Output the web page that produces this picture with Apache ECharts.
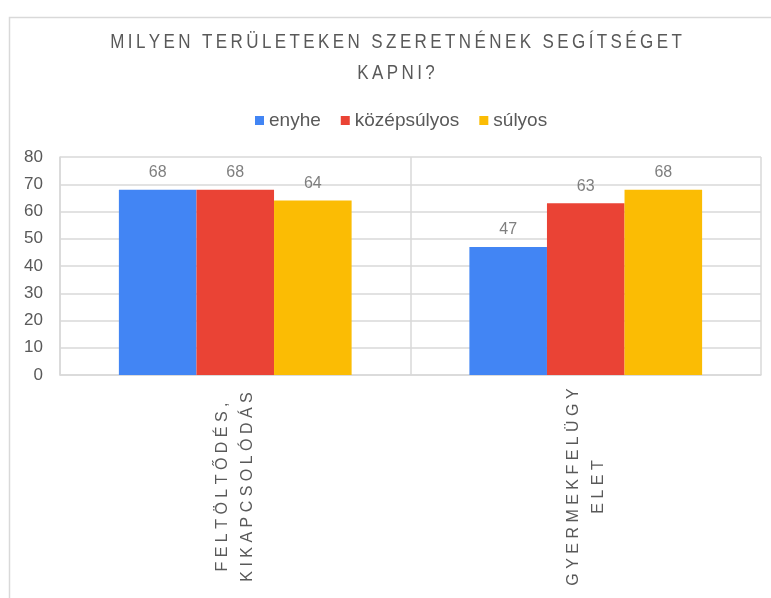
<!DOCTYPE html>
<html>
<head>
<meta charset="utf-8">
<script src="https://cdn.jsdelivr.net/npm/echarts@6/dist/echarts.min.js"></script>
<style>
  html, body { margin: 0; padding: 0; background: #fff; }
  #chart { width: 771px; height: 598px; }
</style>
</head>
<body>
<div id="chart"></div>
<script>
const titleLines = ['MILYEN TERÜLETEKEN SZERETNÉNEK SEGÍTSÉGET', 'KAPNI?']
const categories = ['FELTÖLTŐDÉS,\nKIKAPCSOLÓDÁS', 'GYERMEKFELÜGY\nELET']
const seriesNames = ['enyhe', 'középsúlyos', 'súlyos']
const enyhe = [68, 47]
const kozepsulyos = [68, 63]
const sulyos = [64, 68]
const colors = ['#4285F4', '#EA4335', '#FBBC04']

// spread letters apart, like the letter-spaced text of the original
function spaced(s, sep) {
  return s.split('\n').map(line => Array.from(line).join(sep)).join('\n')
}

const chart = echarts.init(document.getElementById('chart'))

const GRID_COLOR = '#d9d9d9'
const TEXT_COLOR = '#595959'
const FONT = 'Liberation Sans, Arial, sans-serif'

const barLabel = {
  show: true,
  position: 'top',
  distance: 9,
  color: '#7f7f7f',
  fontSize: 16,
  fontFamily: FONT,
}

// title drawn as narrow, letter-spaced text (the original uses a condensed face)
const titleGraphics = titleLines.map((line, i) => ({
  type: 'text',
  x: 396,
  y: 42 + i * 31,
  scaleX: 0.85,
  silent: true,
  style: {
    text: spaced(line, '\u2009'),
    font: '20px ' + FONT,
    fill: TEXT_COLOR,
    textAlign: 'center',
    textVerticalAlign: 'middle',
  },
}))

const option = {
  animation: false,
  color: colors,
  textStyle: { fontFamily: FONT },
  legend: {
    top: 106,
    left: 250,
    icon: 'rect',
    itemWidth: 9,
    itemHeight: 9,
    itemGap: 20,
    textStyle: { fontSize: 19, color: TEXT_COLOR },
    data: seriesNames,
  },
  graphic: [
    {
      type: 'rect',
      left: 7,
      top: 15,
      shape: { width: 790, height: 620 },
      style: { fill: 'none', stroke: GRID_COLOR, lineWidth: 1.5 },
      silent: true,
      z: -10,
    },
    ...titleGraphics,
  ],
  grid: {
    left: 60,
    right: 10,
    top: 157,
    bottom: 223,
  },
  xAxis: {
    type: 'category',
    data: categories.map(c => spaced(c, ' ')),
    axisTick: { show: false },
    axisLine: { show: true, lineStyle: { color: GRID_COLOR, width: 1.5 } },
    splitLine: { show: true, lineStyle: { color: GRID_COLOR, width: 1.5 } },
    axisLabel: {
      interval: 0,
      rotate: 90,
      align: 'center',
      verticalAlign: 'middle',
      margin: 112,
      fontSize: 16,
      lineHeight: 25,
      color: TEXT_COLOR,
    },
  },
  yAxis: {
    type: 'value',
    min: 0,
    max: 80,
    interval: 10,
    axisLine: { show: true, lineStyle: { color: GRID_COLOR, width: 1.5 } },
    axisTick: { show: false },
    splitLine: { lineStyle: { color: GRID_COLOR, width: 1.5 } },
    axisLabel: { fontSize: 17, color: TEXT_COLOR, margin: 17 },
  },
  series: [
    { name: seriesNames[0], type: 'bar', data: enyhe, barGap: '0%', barCategoryGap: '33.6%', label: barLabel },
    { name: seriesNames[1], type: 'bar', data: kozepsulyos, barGap: '0%', barCategoryGap: '33.6%', label: barLabel },
    { name: seriesNames[2], type: 'bar', data: sulyos, barGap: '0%', barCategoryGap: '33.6%', label: barLabel },
  ],
}

chart.setOption(option)
</script>
</body>
</html>
